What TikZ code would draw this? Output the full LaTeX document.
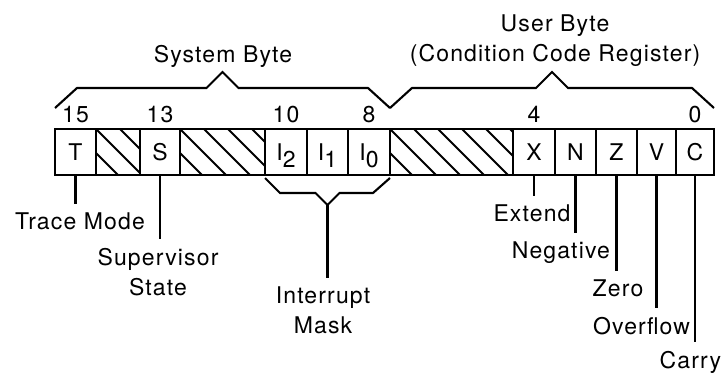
\documentclass[tikz,border=0pt]{standalone}
\usepackage{fontspec}
\setmainfont[LetterSpace=5]{TeX Gyre Heros}
\usetikzlibrary{positioning, calc}
% angular brace over a group of bits
\newcommand{\regbrace}[2]{%
  \draw[brace] let \p1=(#1), \p2=(#2), \n1={(\x1+\x2)/2} in
    (\x1,\y1+21) -- (\x1+22,\y1+41) -- (\n1-16,\y1+41) -- (\n1,\y1+57)
    -- (\n1+16,\y1+41) -- (\x2-22,\y1+41) -- (\x2,\y1+21);}
\newcommand{\sub}[1]{\smash{\raisebox{-7pt}{#1}}}

\begin{document}
\begin{tikzpicture}[x=1pt, y=1pt,
  every node/.style={font=\fontsize{23}{30}\selectfont, inner sep=0pt, outer sep=0pt},
  cell/.style={draw, line width=2.6pt, minimum height=46pt},
  hatched/.style={cell, path picture={
      \foreach \k in {0,...,7}
        \draw[line width=1.9pt] ([xshift=\k*24pt-48pt]path picture bounding box.north west) -- ++(52pt,-52pt);}},
  lead/.style={line width=2.1pt, shorten >=9pt},
  brace/.style={line width=2.1pt}]
  \useasboundingbox (0,0) rectangle (723,375);
  % Status register cells
  \node[cell, minimum width=41pt, anchor=west] (c15) at (55,223) {T};
  \node[hatched, minimum width=44pt, right=0pt of c15] (c14) {};
  \node[cell, minimum width=40pt, right=0pt of c14] (c13) {S};
  \node[hatched, minimum width=85pt, right=0pt of c13] (c12) {};
  \node[cell, minimum width=42pt, right=0pt of c12] (c10) {I\sub{2}};
  \node[cell, minimum width=41pt, right=0pt of c10] (c9) {I\sub{1}};
  \node[cell, minimum width=42pt, right=0pt of c9] (c8) {I\sub{0}};
  \node[hatched, minimum width=123pt, right=0pt of c8] (c7) {};
  \node[cell, minimum width=42pt, right=0pt of c7] (c4) {X};
  \node[cell, minimum width=41pt, right=0pt of c4] (c3) {N};
  \node[cell, minimum width=41pt, right=0pt of c3] (c2) {Z};
  \node[cell, minimum width=39pt, right=0pt of c2] (c1) {V};
  \node[cell, minimum width=38pt, right=0pt of c1] (c0) {C};
  % Bit numbers
  \node[above=6pt of c15] (n15) {15};
  \node[above=6pt of c13] (n13) {13};
  \node[above=6pt of c10] (n10) {10};
  \node[above=6pt of c8] (n8) {8};
  \node[above=6pt of c4] (n4) {4};
  \node[above=6pt of c0] (n0) {0};
  % Byte braces
  \regbrace{c15.north west}{c8.north east}
  \regbrace{c8.north east}{c0.north east}
  \node[anchor=north] (lsys) at (223,330) {System Byte};
  \node[anchor=north, align=center] (luser) at (555,360) {User Byte\\(Condition Code Register)};
  % Interrupt mask brace
  \draw[brace] let \p1=(c10.south west), \p2=(c8.south east), \n1={(\x1+\x2)/2} in
    (\x1,\y1-3) -- (\x1+15,\y1-18) -- (\n1-12,\y1-18) -- (\n1,\y1-30) coordinate (imask)
    -- (\n1+12,\y1-18) -- (\x2-17,\y1-18) -- (\x2,\y1-3);
  % Bit labels
  \node[anchor=north] (ltrace) at (80,162) {Trace Mode};
  \node[anchor=north, align=center] (lsup) at (158,127) {Supervisor\\State};
  \node[anchor=north, align=center] (lint) at (323,88) {Interrupt\\Mask};
  \node[anchor=north] (lext) at (532,170) {Extend};
  \node[anchor=north east] (lneg) at (610,133) {Negative};
  \node[anchor=north] (lzero) at (618,95) {Zero};
  \node[anchor=north east] (lover) at (690,58) {Overflow};
  \node[anchor=north east] (lcarry) at (721,24) {Carry};
  % Leads
  \draw[lead] (c15.south) -- (c15.south |- ltrace.north);
  \draw[lead] (c13.south) -- (c13.south |- lsup.north);
  \draw[lead] (imask) -- (imask |- lint.north);
  \draw[lead] (c4.south) -- (c4.south |- lext.north);
  \draw[lead] (c3.south) -- (c3.south |- lneg.north);
  \draw[lead] (c2.south) -- (c2.south |- lzero.north);
  \draw[lead] (c1.south) -- (c1.south |- lover.north);
  \draw[lead] (c0.south) -- (c0.south |- lcarry.north);
\end{tikzpicture}
\end{document}
